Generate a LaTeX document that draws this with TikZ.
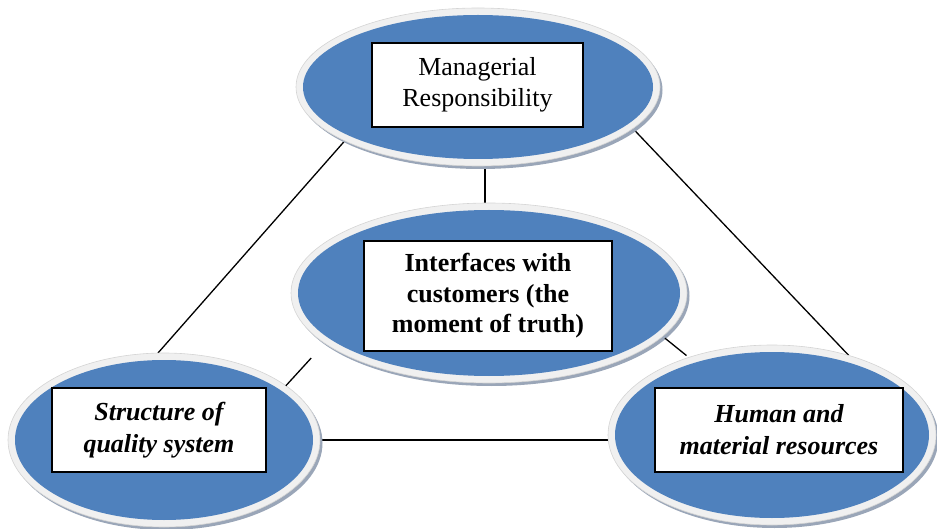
\documentclass[tikz,border=0pt]{standalone}
\usepackage{fontspec}
\setmainfont{Liberation Serif}
\usetikzlibrary{shapes.geometric,backgrounds}
\definecolor{blueF}{HTML}{4F81BD}
\definecolor{rimF}{HTML}{F0F0F0}
\definecolor{rimD}{HTML}{D4D4D4}
\definecolor{shadowF}{HTML}{9AA6B8}
\tikzset{
 rimell/.style={ellipse, fill=rimF, draw=rimD, line width=0.6pt, inner sep=0pt, outer sep=0pt},
 blueell/.style={ellipse, fill=blueF, inner sep=0pt, outer sep=0pt},
 shadell/.style={ellipse, fill=shadowF, inner sep=0pt, outer sep=0pt},
 textbox/.style={rectangle, draw=black, line width=1.8pt, fill=white, align=center, inner sep=0pt, outer sep=0pt, font=\fontsize{26}{30.5}\selectfont},
 link/.style={draw=black, line width=1.3pt}
}
\begin{document}
\begin{tikzpicture}[x=1pt,y=-1pt]
\useasboundingbox (0,0) rectangle (937,529);
% top ellipse
\node[shadell, minimum width=364pt, minimum height=158pt] (topS) at (480.5,90) {};
\node[rimell, minimum width=364pt, minimum height=158pt] (top) at (478,87) {};
\node[blueell, minimum width=350pt, minimum height=144pt] (topB) at (478,87) {};
\node[textbox, minimum width=211pt, minimum height=84pt] (topT) at (477.5,85) {Managerial\\Responsibility};
% middle ellipse
\node[shadell, minimum width=396pt, minimum height=180pt] (midS) at (491.5,296) {};
\node[rimell, minimum width=396pt, minimum height=180pt] (mid) at (489,293) {};
\node[blueell, minimum width=382pt, minimum height=166pt] (midB) at (489,293) {};
\node[textbox, minimum width=248pt, minimum height=110pt, font=\fontsize{26}{30.5}\selectfont\bfseries] (midT) at (488,296) {Interfaces with\\customers (the\\moment of truth)};
% left ellipse
\node[shadell, minimum width=312pt, minimum height=174pt] (leftS) at (166.5,443) {};
\node[rimell, minimum width=312pt, minimum height=174pt] (left) at (164,440) {};
\node[blueell, minimum width=298pt, minimum height=160pt] (leftB) at (164,440) {};
\node[textbox, minimum width=214pt, minimum height=84pt, font=\fontsize{26}{32}\selectfont\bfseries\itshape] (leftT) at (159,430) {Structure of\\quality system};
% right ellipse
\node[shadell, minimum width=328pt, minimum height=180pt] (rightS) at (774.5,438) {};
\node[rimell, minimum width=328pt, minimum height=180pt] (right) at (772,435) {};
\node[blueell, minimum width=314pt, minimum height=166pt] (rightB) at (772,435) {};
\node[textbox, minimum width=248pt, minimum height=84pt, font=\fontsize{26}{32}\selectfont\bfseries\itshape] (rightT) at (779,430) {Human and\\material resources};
% connectors
\begin{pgfonlayer}{background}
\draw[link] (top.202) -- (left.94.5);
\draw[link] (top.345) -- (right.46);
\draw[link] (top.275.8) -- (top.275.8 |- mid.north);
\end{pgfonlayer}
\draw[link, shorten >=20pt] (left.24.4) -- (mid.197);
\draw[link, shorten <=3pt, shorten >=3pt] (mid.346) -- (right.137);
\begin{pgfonlayer}{background}
\draw[link] (left.east) -- (left.east -| right.west);
\end{pgfonlayer}
\end{tikzpicture}
\end{document}
